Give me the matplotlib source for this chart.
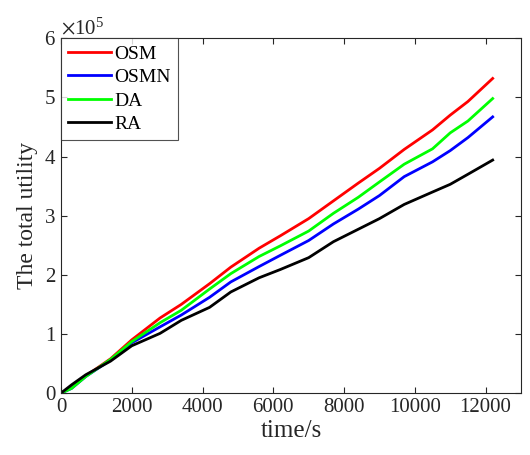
import matplotlib
matplotlib.use('Agg')
import matplotlib.pyplot as plt
from matplotlib.ticker import ScalarFormatter

plt.rcParams['font.family'] = ['Liberation Serif', 'DejaVu Serif']
plt.rcParams['mathtext.fontset'] = 'stix'

# time samples (s) and total utility (x1e5)
t = [0, 300, 700, 1400, 2000, 2800, 3400, 4200, 4800, 5600, 6200,
     7000, 7700, 8400, 9000, 9700, 10500, 11000, 11500, 12200]
osm = [0, 0.10, 0.29, 0.58, 0.90, 1.27, 1.50, 1.85, 2.13, 2.45, 2.66,
       2.95, 3.25, 3.55, 3.80, 4.12, 4.45, 4.70, 4.93, 5.32]
osmn = [0, 0.08, 0.28, 0.56, 0.85, 1.12, 1.32, 1.62, 1.88, 2.14, 2.33,
        2.58, 2.86, 3.11, 3.34, 3.66, 3.91, 4.10, 4.32, 4.67]
da = [0, 0.08, 0.28, 0.57, 0.87, 1.19, 1.40, 1.76, 2.02, 2.31, 2.49,
      2.74, 3.04, 3.31, 3.57, 3.87, 4.13, 4.40, 4.60, 4.98]
ra = [0, 0.14, 0.31, 0.54, 0.80, 1.01, 1.23, 1.45, 1.71, 1.95, 2.09,
      2.29, 2.56, 2.77, 2.95, 3.19, 3.40, 3.53, 3.70, 3.94]
scale = 1e5

series = [('OSM', osm, '#ff0000'), ('OSMN', osmn, '#0000ff'),
          ('DA', da, '#00ff00'), ('RA', ra, '#000000')]

fig = plt.figure(figsize=(5.3, 4.55), dpi=100)
ax = fig.add_axes([0.115, 0.136, 0.868, 0.780])

lw = 2.0
for name, vals, col in series:
    ax.plot(t, [v * scale for v in vals], color=col, linewidth=lw, label=name)

ax.set_xlim(0, 13000)
ax.set_ylim(0, 6e5)
ax.set_xticks(range(0, 13000, 2000))
ax.set_yticks([i * 1e5 for i in range(7)])

fmt = ScalarFormatter(useMathText=True)
fmt.set_powerlimits((0, 0))
ax.yaxis.set_major_formatter(fmt)
ax.yaxis.get_offset_text().set_fontsize(15)
ax.yaxis.get_offset_text().set_color('#262626')

dark = '#262626'
ax.tick_params(direction='in', top=True, right=True, labelsize=15,
               colors=dark, length=4, width=0.8)
for s in ax.spines.values():
    s.set_color(dark)
    s.set_linewidth(0.8)

ax.set_xlabel('time/s', fontsize=18, color=dark, labelpad=2)
ax.set_ylabel('The total utility', fontsize=17, color=dark, labelpad=4)

leg = ax.legend(loc='upper left', fontsize=14, frameon=True, fancybox=False,
                edgecolor=dark, borderaxespad=0, handlelength=2.2,
                handletextpad=0.2, labelspacing=0.3, borderpad=0.35)
leg.get_frame().set_linewidth(0.8)

fig.savefig('out.png', dpi=100)
